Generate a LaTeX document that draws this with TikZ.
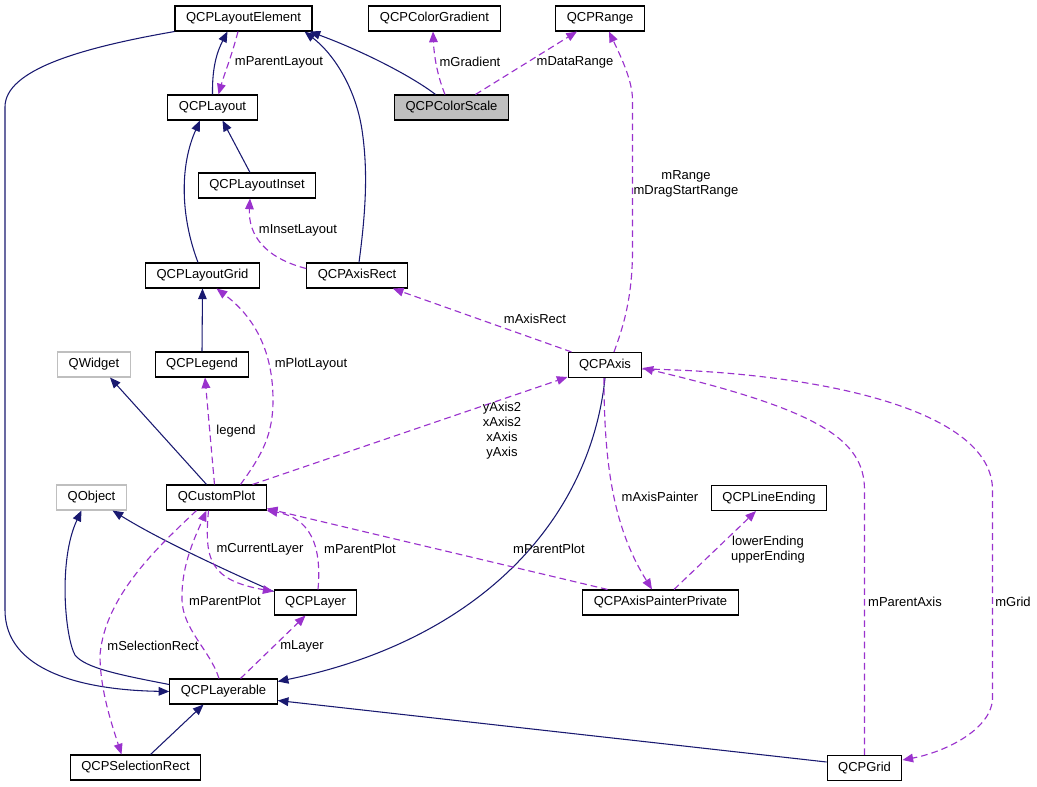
\documentclass[tikz,border=0pt]{standalone}
\usepackage{fontspec}
\setmainfont{Liberation Sans}
\usetikzlibrary{arrows.meta,calc}
\definecolor{navy}{HTML}{191970}
\definecolor{orchid}{HTML}{9A32CD}
\definecolor{boxgray}{HTML}{BFBFBF}
\newcommand{\lblfont}{\fontsize{9.75}{11.25}\selectfont}
\tikzset{
    cls/.style = {draw, rectangle, line width=0.8pt,
        minimum height=18.75pt,
        inner xsep=8.3pt, inner ysep=0pt, font=\lblfont},
    extcls/.style = {cls, draw=boxgray},
    inheritline/.style = {draw=navy, line width=0.8pt, -{Triangle[length=8pt,width=6.5pt]}},
    useline/.style = {draw=orchid, line width=0.85pt, dash pattern=on 5pt off 3pt, -{Triangle[length=8pt,width=6.5pt]}},
    edgelabel/.style = {font=\lblfont, align=center, inner sep=0pt}
}

\begin{document}
\begin{tikzpicture}[x=0.75pt,y=-0.75pt]
            \useasboundingbox (0,0) rectangle (1037,787);
            \node[cls] (layoutelement) at (243.5,18.5) {QCPLayoutElement};
            \node[cls] (colorgradient) at (434.5,18.5) {QCPColorGradient};
            \node[cls] (range) at (600,18.5) {QCPRange};
            \node[cls] (layout) at (212.5,107.5) {QCPLayout};
            \node[cls,fill=boxgray] (colorscale) at (451.5,107.5) {QCPColorScale};
            \node[cls] (layoutinset) at (257,185.5) {QCPLayoutInset};
            \node[cls] (layoutgrid) at (202.5,275.5) {QCPLayoutGrid};
            \node[cls] (axisrect) at (357,275.5) {QCPAxisRect};
            \node[extcls] (qwidget) at (94,364.5) {QWidget};
            \node[cls] (legend) at (202,364.5) {QCPLegend};
            \node[cls] (axis) at (605,365) {QCPAxis};
            \node[extcls] (qobject) at (91.5,497.5) {QObject};
            \node[cls] (customplot) at (216.5,497.5) {QCustomPlot};
            \node[cls] (lineending) at (769,498) {QCPLineEnding};
            \node[cls] (layer) at (315.5,602.5) {QCPLayer};
            \node[cls] (painter) at (660.5,602.5) {QCPAxisPainterPrivate};
            \node[cls] (layerable) at (223.5,691.5) {QCPLayerable};
            \node[cls] (selrect) at (135.5,767.5) {QCPSelectionRect};
            \node[cls] (grid) at (864.5,768) {QCPGrid};
    %                 inheritance
            \draw[inheritline] (layout.north) .. controls (212,65) and (218,50) .. ($(layoutelement.south)+(-16,0)$);
            \draw[inheritline] ($(layoutinset.north)+(-7,0)$) -- ($(layout.south)+(10,0)$);
            \draw[inheritline] ($(layoutgrid.north)+(-4.5,0)$) .. controls (180,215) and (180,165) .. ($(layout.south)+(-12.5,0)$);
            \draw[inheritline] ($(axisrect.north)+(2,0)$) .. controls (366,210) and (368,170) .. (362,130) .. controls (356,90) and (335,55) .. ($(layoutelement.south east)+(-8,0)$);
            \draw[inheritline] ($(colorscale.north)+(-16,0)$) .. controls (410,75) and (360,50) .. ($(layoutelement.south east)+(-3,0)$);
            \draw[inheritline] (layoutelement.south west) .. controls (80,48) and (5,70) .. (5,107) -- (5,610) .. controls (5,670) and (80,690) .. (layerable.west);
            \draw[inheritline] (legend.north) -- (layoutgrid.south);
            \draw[inheritline] ($(customplot.north)+(-10,0)$) -- ($(qwidget.south)+(16,0)$);
            \draw[inheritline] ($(layer.north west)+(0,2)$) .. controls (225,570) and (160,540) .. ($(qobject.south)+(21,0)$);
            \draw[inheritline] ($(layerable.west)+(0,-7)$) .. controls (120,675) and (85,668) .. (75,655) .. controls (65,637) and (58,560) .. ($(qobject.south)+(-10,0)$);
            \draw[inheritline] (axis.south) .. controls (590,520) and (480,640) .. ($(layerable.east)+(0,-10)$);
            \draw[inheritline] ($(selrect.north)+(15,0)$) -- ($(layerable.south)+(-20,0)$);
            \draw[inheritline] ($(grid.west)+(0,-6)$) -- ($(layerable.east)+(0,9)$);
    %                 members
            \draw[useline] ($(layoutelement.south)+(-5.5,0)$) .. controls (232,55) and (224,75) .. ($(layout.north)+(6,0)$);
            \draw[useline] ($(colorscale.north)+(-6.5,0)$) .. controls (437,75) and (434,55) .. ($(colorgradient.south)+(-1.5,0)$);
            \draw[useline] ($(colorscale.north)+(24,0)$) -- ($(range.south)+(-23,0)$);
            \draw[useline] ($(axis.north)+(9,0)$) .. controls (622,330) and (632.5,300) .. (632.5,250) -- (632.5,100) .. controls (632.5,80) and (620,55) .. ($(range.south)+(9,0)$);
            \draw[useline] ($(axisrect.west)+(0,-7)$) .. controls (265,258) and (248,235) .. ($(layoutinset.south)+(-7,0)$);
            \draw[useline] ($(axis.north west)+(4,0)$) -- ($(axisrect.south east)+(-15,0)$);
            \draw[useline] ($(customplot.north)+(24,0)$) .. controls (262,455) and (273,435) .. (273,400) .. controls (273,340) and (245,310) .. ($(layoutgrid.south)+(14,0)$);
            \draw[useline] ($(customplot.north)+(-2,0)$) -- ($(legend.south)+(3,0)$);
            \draw[useline] ($(customplot.north)+(36,0)$) -- ($(axis.south west)+(0,-1)$);
            \draw[useline] ($(axis.south)+(-1,0)$) .. controls (604,470) and (615,530) .. ($(painter.north)+(-8.5,0)$);
            \draw[useline] ($(painter.north)+(13.5,0)$) -- ($(lineending.south)+(-13,0)$);
            \draw[useline] ($(painter.north)+(-53,0)$) -- ($(customplot.south east)+(0,-2)$);
            \draw[useline] ($(customplot.south)+(-8,0)$) .. controls (204,560) and (210,580) .. ($(layer.north west)+(0,2)$);
            \draw[useline] ($(layer.north)+(2.5,0)$) .. controls (322,545) and (310,518) .. (customplot.south east);
            \draw[useline] ($(layerable.north)+(-4.5,0)$) .. controls (210,650) and (183,630) .. (182,600) .. controls (181,565) and (196,535) .. ($(customplot.south)+(-10,0)$);
            \draw[useline] ($(customplot.south)+(-20,0)$) .. controls (160,545) and (105,595) .. (100,655) .. controls (100,690) and (112,725) .. ($(selrect.north)+(-14,0)$);
            \draw[useline] ($(layerable.north)+(17,0)$) -- ($(layer.south)+(-10,0)$);
            \draw[useline] (grid.north) -- (864.5,490) .. controls (864.5,440) and (820,410) .. ($(axis.east)+(0,3)$);
            \draw[useline] ($(axis.east)+(0,4)$) .. controls (820,372) and (992.5,410) .. (992.5,490) -- (992.5,700) .. controls (990,730) and (945,752) .. ($(grid.east)+(0,-8)$);
    %                 labels
            \node[edgelabel] (lparentlayout) at (279,62) {mParentLayout};
            \node[edgelabel] (lgradient) at (470,62) {mGradient};
            \node[edgelabel] (ldatarange) at (575,62) {mDataRange};
            \node[edgelabel] (lrange) at (686,184) {mRange\\mDragStartRange};
            \node[edgelabel] (linsetlayout) at (298,230) {mInsetLayout};
            \node[edgelabel] (laxisrect) at (535,319) {mAxisRect};
            \node[edgelabel] (lplotlayout) at (311,364) {mPlotLayout};
            \node[edgelabel] (llegend) at (236,431) {legend};
            \node[edgelabel] (laxes) at (502,430.5) {yAxis2\\xAxis2\\xAxis\\yAxis};
            \node[edgelabel] (laxispainter) at (660,497) {mAxisPainter};
            \node[edgelabel] (lendings) at (768,550) {lowerEnding\\upperEnding};
            \node[edgelabel] (lpainterplot) at (549,549) {mParentPlot};
            \node[edgelabel] (lcurrentlayer) at (260,549) {mCurrentLayer};
            \node[edgelabel] (llayerplot) at (360,549) {mParentPlot};
            \node[edgelabel] (llayerableplot) at (225,601) {mParentPlot};
            \node[edgelabel] (lselrect) at (153,646) {mSelectionRect};
            \node[edgelabel] (llayer) at (302,646) {mLayer};
            \node[edgelabel] (lparentaxis) at (905,602) {mParentAxis};
            \node[edgelabel] (lgrid) at (1013,602) {mGrid};
        \end{tikzpicture}
\end{document}
